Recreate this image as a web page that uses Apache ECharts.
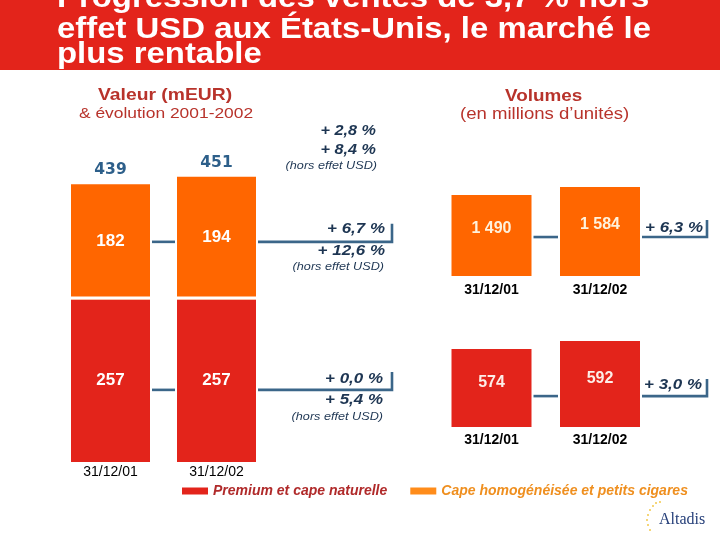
<!DOCTYPE html>
<html><head><meta charset="utf-8">
<script src="https://cdn.jsdelivr.net/npm/echarts@6/dist/echarts.min.js"></script>
<style>html,body{margin:0;padding:0;background:#fff}#c{width:720px;height:540px}</style>
</head><body><div id="c"></div>
<script>
// ---------- data ----------
const dates = ['31/12/01', '31/12/02'];
const premiumValue = [257, 257];
const capeValue = [182, 194];
const premiumVolume = [574, 592];
const capeVolume = [1490, 1584];
const totalGrowth = ['+ 2,8 %', '+ 8,4 %'];
const capeGrowth = ['+ 6,7 %', '+ 12,6 %'];
const premiumGrowth = ['+ 0,0 %', '+ 5,4 %'];
const capeVolumeGrowth = ['+ 6,3 %'];
const premiumVolumeGrowth = ['+ 3,0 %'];
const titleLines = ['Progression des ventes de 3,7 % hors', 'effet USD aux États-Unis, le marché le', 'plus rentable'];
const headerValue = ['Valeur (mEUR)', '& évolution 2001-2002'];
const headerVolume = ['Volumes', '(en millions d\u2019unités)'];
const horsUSD = '(hors effet USD)';
const premiumName = 'Premium et cape naturelle';
const capeName = 'Cape homogénéisée et petits cigares';
const brand = 'Altadis';

// ---------- styles ----------
const SANS = 'Liberation Sans';
const SERIF = 'Liberation Serif';
const RED = '#e3241b', ORANGE = '#ff6600';
const NAVY = '#1d3552', STEEL = '#3b6689', HEAD = '#b8332b';
const SX = 1.15;

const totals = premiumValue.map((v, i) => v + capeValue[i]);
const fmtThousands = v => String(v).replace(/\B(?=(\d{3})+(?!\d))/g, ' ');

function txt(text, x, y, o) {
  o = o || {};
  return {
    type: 'text', x: x, y: y, scaleX: o.sx == null ? SX : o.sx, z: 100,
    style: {
      text: text, fill: o.color || NAVY,
      fontFamily: o.family || SANS, fontSize: o.size || 14,
      fontWeight: o.weight || 'normal', fontStyle: o.style || 'normal',
      align: o.align || 'left', verticalAlign: 'middle'
    }
  };
}

function connector(barW, extLen, tickH) {
  return function (params, api) {
    const lvl = api.value(1);
    const a = api.coord([0, lvl]);
    const b = api.coord([1, lvl]);
    const h = barW / 2 + 2;
    const st = { stroke: STEEL, lineWidth: 2.6, fill: null };
    return {
      type: 'group', children: [
        { type: 'polyline', shape: { points: [[a[0] + h, a[1]], [b[0] - h, b[1]]] }, style: st },
        { type: 'polyline', shape: { points: [[b[0] + h, b[1]], [b[0] + h + extLen, b[1]], [b[0] + h + extLen, b[1] - tickH]] }, style: st }
      ]
    };
  };
}
// white gap between stacked segments, drawn at the segment boundary
function separator(barW, gapH) {
  return function (params, api) {
    const p = api.coord([api.value(0), api.value(1)]);
    return { type: 'rect', shape: { x: p[0] - barW / 2 - 1, y: p[1] - gapH, width: barW + 2, height: gapH }, style: { fill: '#fff' } };
  };
}

const graphic = [
  { type: 'rect', shape: { x: 0, y: 0, width: 720, height: 70 }, style: { fill: RED }, z: 90 },
  txt(titleLines[0], 57, -1, { color: '#fff', weight: 'bold', size: 29, sx: 1.134 }),
  txt(titleLines[1], 57, 30, { color: '#fff', weight: 'bold', size: 29, sx: 1.134 }),
  txt(titleLines[2], 57, 55, { color: '#fff', weight: 'bold', size: 29, sx: 1.134 }),
  txt(headerValue[0], 98, 95, { color: HEAD, weight: 'bold', size: 16.5, sx: 1.17 }),
  txt(headerValue[1], 79, 114, { color: HEAD, size: 15, sx: 1.16 }),
  txt(headerVolume[0], 505, 97, { color: HEAD, weight: 'bold', size: 16, sx: 1.18 }),
  txt(headerVolume[1], 460, 115, { color: HEAD, size: 16, sx: 1.16 }),
  txt(totalGrowth[0], 376, 131, { align: 'right', weight: 'bold', style: 'italic', size: 15, sx: 1.08 }),
  txt(totalGrowth[1], 376, 150, { align: 'right', weight: 'bold', style: 'italic', size: 15, sx: 1.08 }),
  txt(horsUSD, 377, 166, { align: 'right', style: 'italic', size: 11.5, sx: 1.1 }),
  txt(capeGrowth[0], 385, 229, { align: 'right', weight: 'bold', style: 'italic', size: 15, sx: 1.13 }),
  txt(capeGrowth[1], 385, 251, { align: 'right', weight: 'bold', style: 'italic', size: 15, sx: 1.13 }),
  txt(horsUSD, 384, 267, { align: 'right', style: 'italic', size: 11.5, sx: 1.1 }),
  txt(premiumGrowth[0], 383, 379, { align: 'right', weight: 'bold', style: 'italic', size: 15, sx: 1.13 }),
  txt(premiumGrowth[1], 383, 400, { align: 'right', weight: 'bold', style: 'italic', size: 15, sx: 1.13 }),
  txt(horsUSD, 383, 417, { align: 'right', style: 'italic', size: 11.5, sx: 1.1 }),
  txt(capeVolumeGrowth[0], 703, 228, { align: 'right', weight: 'bold', style: 'italic', size: 15, sx: 1.13 }),
  txt(premiumVolumeGrowth[0], 702, 385, { align: 'right', weight: 'bold', style: 'italic', size: 15, sx: 1.13 }),
  txt(brand, 659, 520, { color: '#27407a', size: 16, family: SERIF, sx: 1 })
];
// small logo dots
[[653, 506], [650, 510], [648, 515], [647, 520], [648, 525], [650, 530], [656, 503], [660, 502]].forEach(p => {
  graphic.push({ type: 'circle', shape: { cx: p[0], cy: p[1], r: 1 }, style: { fill: '#f2c84b' }, z: 100 });
});

const catAxis = (gi, bold, margin) => ({
  type: 'category', gridIndex: gi, data: dates,
  axisLine: { show: false }, axisTick: { show: false },
  axisLabel: { color: '#000', fontFamily: SANS, fontSize: 14, fontWeight: bold ? 'bold' : 'normal', margin: margin }
});
const valAxis = (gi, min, max) => ({
  type: 'value', gridIndex: gi, min: min, max: max, show: false, splitLine: { show: false }
});

const option = {
  backgroundColor: '#fff',
  animation: false,
  graphic: graphic,
  grid: [
    { left: 57.5, width: 212, top: 171, bottom: 78 },
    { left: 437.25, width: 217, top: 187, bottom: 264 },
    { left: 437.25, width: 217, top: 341, bottom: 113 }
  ],
  xAxis: [catAxis(0, false, 3), catAxis(1, true, 7), catAxis(2, true, 6)],
  yAxis: [valAxis(0, 0, 460), valAxis(1, 540, 1584), valAxis(2, 400, 592)],
  legend: {
    left: 182, top: 484, padding: 0, icon: 'rect', itemWidth: 26, itemHeight: 7, itemGap: 23,
    selectedMode: false,
    textStyle: { fontFamily: SANS, fontSize: 14, fontWeight: 'bold', fontStyle: 'italic' },
    data: [
      { name: premiumName, itemStyle: { color: RED }, textStyle: { color: '#b02a2a' } },
      { name: capeName, itemStyle: { color: '#ff8c1a' }, textStyle: { color: '#ef8f1f' } }
    ]
  },
  series: [
    {
      name: premiumName, type: 'bar', stack: 'v', xAxisIndex: 0, yAxisIndex: 0, barWidth: 79, barGap: '-100%',
      data: premiumValue, itemStyle: { color: RED },
      label: { show: true, position: 'inside', color: '#fff', fontFamily: SANS, fontWeight: 'bold', fontSize: 17 }
    },
    {
      name: capeName, type: 'bar', stack: 'v', xAxisIndex: 0, yAxisIndex: 0, barWidth: 79, barGap: '-100%',
      data: capeValue, itemStyle: { color: ORANGE },
      label: { show: true, position: 'inside', offset: [0, -1], color: '#fff', fontFamily: SANS, fontWeight: 'bold', fontSize: 17 }
    },
    {
      name: 'Total', type: 'bar', xAxisIndex: 0, yAxisIndex: 0, barWidth: 79, barGap: '-100%', z: 1,
      data: totals, itemStyle: { color: 'rgba(0,0,0,0)' }, silent: true,
      label: { show: true, position: 'top', distance: 6, color: '#2d5f8a', fontFamily: 'DejaVu Sans', fontWeight: 'bold', fontSize: 15.5 }
    },
    {
      name: 'Volumes cape', type: 'bar', xAxisIndex: 1, yAxisIndex: 1, barWidth: 80,
      data: capeVolume, itemStyle: { color: ORANGE },
      label: { show: true, position: 'inside', offset: [0, -7], color: '#fff2dc', fontFamily: SANS, fontWeight: 'bold', fontSize: 16, formatter: p => fmtThousands(p.value) }
    },
    {
      name: 'Volumes premium', type: 'bar', xAxisIndex: 2, yAxisIndex: 2, barWidth: 80,
      data: premiumVolume, itemStyle: { color: RED },
      label: { show: true, position: 'inside', offset: [0, -5], color: '#fdeee8', fontFamily: SANS, fontWeight: 'bold', fontSize: 16 }
    },
    { type: 'custom', xAxisIndex: 0, yAxisIndex: 0, silent: true, z: 4, encode: { x: 0, y: 1 },
      data: premiumValue.map((v, i) => [i, v]), renderItem: separator(79, 3) },
    { type: 'custom', xAxisIndex: 0, yAxisIndex: 0, silent: true, z: 5, encode: { x: 0, y: 1 }, data: [[0, 348]], renderItem: connector(79, 134, 18) },
    { type: 'custom', xAxisIndex: 0, yAxisIndex: 0, silent: true, z: 5, encode: { x: 0, y: 1 }, data: [[0, 114]], renderItem: connector(79, 134, 18) },
    { type: 'custom', xAxisIndex: 1, yAxisIndex: 1, silent: true, z: 5, encode: { x: 0, y: 1 }, data: [[0, 997]], renderItem: connector(80, 65, 17) },
    { type: 'custom', xAxisIndex: 2, yAxisIndex: 2, silent: true, z: 5, encode: { x: 0, y: 1 }, data: [[0, 469]], renderItem: connector(80, 65, 17) }
  ]
};
const chart = echarts.init(document.getElementById('c'), null, { renderer: 'canvas' });
chart.setOption(option);
</script>
</body></html>
